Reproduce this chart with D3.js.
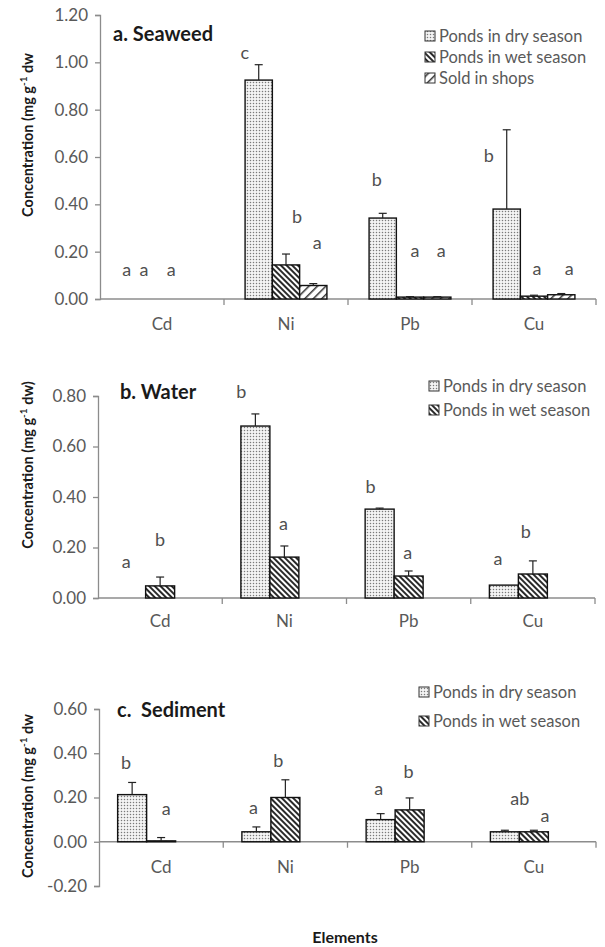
<!DOCTYPE html>
<html>
<head>
<meta charset="utf-8">
<script src="https://cdn.jsdelivr.net/npm/d3@7"></script>
<style>
  body { margin: 0; background: #fff; }
  svg { font-family: Lato, "Open Sans", sans-serif; }
</style>
</head>
<body>
<div id="chart"></div>
<script>
const elements = ["Cd", "Ni", "Pb", "Cu"];
const seriesNames = ["Ponds in dry season", "Ponds in wet season", "Sold in shops"];

// a. Seaweed
const seaweedMean = [
  [0, 0.925, 0.342, 0.38],
  [0, 0.144, 0.008, 0.012],
  [0, 0.057, 0.008, 0.018]
];
const seaweedErr = [
  [0, 0.065, 0.02, 0.335],
  [0, 0.046, 0.002, 0.004],
  [0, 0.008, 0.002, 0.005]
];
const seaweedLetters = [["a", "c", "b", "b"], ["a", "b", "a", "a"], ["a", "a", "a", "a"]];
const seaweedLetterAt = [[0.123, 1.04, 0.503, 0.604], [0.123, 0.346, 0.203, 0.127], [0.123, 0.237, 0.203, 0.127]];

// b. Water
const waterMean = [
  [0, 0.681, 0.352, 0.051],
  [0.048, 0.162, 0.087, 0.095]
];
const waterErr = [
  [0, 0.048, 0.004, 0],
  [0.035, 0.044, 0.02, 0.052]
];
const waterLetters = [["a", "b", "b", "a"], ["b", "a", "a", "b"]];
const waterLetterAt = [[0.143, 0.816, 0.44, 0.154], [0.23, 0.293, 0.178, 0.261]];

// c. Sediment
const sedimentMean = [
  [0.213, 0.045, 0.1, 0.045],
  [0.004, 0.2, 0.144, 0.045]
];
const sedimentErr = [
  [0.055, 0.022, 0.027, 0.007],
  [0.015, 0.08, 0.054, 0.007]
];
const sedimentLetters = [["b", "a", "a", "ab"], ["a", "b", "b", "a"]];
const sedimentLetterAt = [[0.356, 0.153, 0.239, 0.194], [0.149, 0.365, 0.315, 0.117]];

const ticksA = [0, 0.2, 0.4, 0.6, 0.8, 1.0, 1.2];
const ticksB = [0, 0.2, 0.4, 0.6, 0.8];
const ticksC = [-0.2, 0, 0.2, 0.4, 0.6];

// layout
const W = 605, H = 947;
const svg = d3.select("#chart").append("svg").attr("width", W).attr("height", H);

const defs = svg.append("defs");
// dotted fill (dry season)
const pDry = defs.append("pattern").attr("id", "pat0")
  .attr("patternUnits", "userSpaceOnUse").attr("width", 3).attr("height", 3);
pDry.append("rect").attr("width", 3).attr("height", 3).attr("fill", "#f4f4f4");
pDry.append("circle").attr("cx", 1.5).attr("cy", 1.5).attr("r", 0.75).attr("fill", "#7a7a7a");
// dark hatch (wet season), lines running down to the right
const pWet = defs.append("pattern").attr("id", "pat1")
  .attr("patternUnits", "userSpaceOnUse").attr("width", 4).attr("height", 4)
  .attr("patternTransform", "rotate(45)");
pWet.append("rect").attr("width", 4).attr("height", 4).attr("fill", "#fff");
pWet.append("rect").attr("width", 4).attr("height", 2).attr("fill", "#2a2a2a");
// light hatch (shops), lines running up to the right
const pShop = defs.append("pattern").attr("id", "pat2")
  .attr("patternUnits", "userSpaceOnUse").attr("width", 6).attr("height", 6)
  .attr("patternTransform", "rotate(-45)");
pShop.append("rect").attr("width", 6).attr("height", 6).attr("fill", "#fff");
pShop.append("rect").attr("width", 6).attr("height", 1.5).attr("fill", "#333");

const panels = [
  {
    title: "a. Seaweed", mean: seaweedMean, err: seaweedErr,
    letters: seaweedLetters, letterAt: seaweedLetterAt,
    ticks: ticksA, domain: [0, 1.2], yr: [299, 15], x0: 100, x1: 596, group: 0.66,
    titleX: 113, titleY: 41, legX: 425, legY: 36, legStep: 21,
    yTitleY: 135, closeParen: false, catDy: 31,
    nudge: [[-8, -14, -6, -18], [-18, 11, 5, 3], [-18, 4, 4, 8]]
  },
  {
    title: "b. Water", mean: waterMean, err: waterErr,
    letters: waterLetters, letterAt: waterLetterAt,
    ticks: ticksB, domain: [0, 0.8], yr: [598, 396], x0: 98, x1: 595, group: 0.70,
    titleX: 120, titleY: 399, legX: 429, legY: 386, legStep: 24,
    yTitleY: 465, closeParen: true, catDy: 29,
    nudge: [[-5, -14, -9, -6], [0, -1, -1, -7]]
  },
  {
    title: "c.  Sediment", mean: sedimentMean, err: sedimentErr,
    letters: sedimentLetters, letterAt: sedimentLetterAt,
    ticks: ticksC, domain: [-0.2, 0.6], yr: [886, 709], x0: 99, x1: 596, group: 0.70,
    titleX: 117, titleY: 717, legX: 419, legY: 692, legStep: 29,
    yTitleY: 796, closeParen: false, catDy: 31,
    nudge: [[-6, -3, -2, 15], [5, -7, -1, 11]]
  }
];

const axisGrey = "#8c8c8c";
const textGrey = "#595959";
const fmt = (d) => d.toFixed(2); // plain hyphen for negatives, like the source

panels.forEach((p) => {
  const g = svg.append("g");
  const y = d3.scaleLinear().domain(p.domain).range(p.yr);
  const x = d3.scaleBand().domain(elements).range([p.x0, p.x1]).paddingInner(0).paddingOuter(0);
  const pad = (1 - p.group) / 2;
  // always three slots per element, as in the source chart
  const slotW = x.bandwidth() * p.group / 3;
  const slotX = (el, s) => x(el) + x.bandwidth() * pad + s * slotW;

  // y axis
  const yAxis = d3.axisLeft(y).tickValues(p.ticks).tickSize(5).tickPadding(7).tickFormat(fmt);
  const ya = g.append("g").attr("transform", `translate(${p.x0},0)`).call(yAxis);
  ya.select(".domain").attr("stroke", axisGrey).attr("stroke-width", 1.3);
  ya.selectAll(".tick line").attr("stroke", axisGrey).attr("stroke-width", 1.3);
  ya.selectAll(".tick text").attr("fill", textGrey).style("font-size", "17px")
    .style("font-family", "Lato, sans-serif");

  // x axis at zero
  const zy = y(0);
  g.append("line").attr("x1", p.x0).attr("x2", p.x1).attr("y1", zy).attr("y2", zy)
    .attr("stroke", axisGrey).attr("stroke-width", 1.3);
  g.selectAll(".xtick").data(elements).join("line")
    .attr("x1", (d) => x(d) + x.bandwidth())
    .attr("x2", (d) => x(d) + x.bandwidth())
    .attr("y1", zy).attr("y2", zy + 6)
    .attr("stroke", axisGrey).attr("stroke-width", 1.3);
  g.selectAll(".cat").data(elements).join("text")
    .attr("x", (d) => x(d) + x.bandwidth() / 2)
    .attr("y", zy + p.catDy)
    .attr("text-anchor", "middle").attr("fill", textGrey)
    .style("font-size", "17px").text((d) => d);

  // bars
  p.mean.forEach((vals, s) => {
    const sg = g.append("g");
    const d = elements.map((el, i) => ({ el, v: vals[i], e: p.err[s][i], i }));
    sg.selectAll("rect").data(d.filter((b) => b.v > 0)).join("rect")
      .attr("x", (b) => slotX(b.el, s))
      .attr("width", slotW)
      .attr("y", (b) => y(b.v))
      .attr("height", (b) => y(0) - y(b.v))
      .attr("fill", `url(#pat${s})`)
      .attr("stroke", "#111").attr("stroke-width", 1.4);
    const eb = d.filter((b) => b.e > 0);
    sg.selectAll(".ev").data(eb).join("line")
      .attr("x1", (b) => slotX(b.el, s) + slotW / 2)
      .attr("x2", (b) => slotX(b.el, s) + slotW / 2)
      .attr("y1", (b) => y(b.v)).attr("y2", (b) => y(b.v + b.e))
      .attr("stroke", "#222").attr("stroke-width", 1.2);
    sg.selectAll(".ec").data(eb).join("line")
      .attr("x1", (b) => slotX(b.el, s) + slotW / 2 - 4)
      .attr("x2", (b) => slotX(b.el, s) + slotW / 2 + 4)
      .attr("y1", (b) => y(b.v + b.e)).attr("y2", (b) => y(b.v + b.e))
      .attr("stroke", "#222").attr("stroke-width", 1.2);
    // significance letters
    sg.selectAll(".lt").data(d).join("text")
      .attr("x", (b) => slotX(b.el, s) + slotW / 2 + p.nudge[s][b.i])
      .attr("y", (b) => y(p.letterAt[s][b.i]))
      .attr("dy", "0.35em")
      .attr("text-anchor", "middle").attr("fill", "#505050")
      .style("font-size", "18px")
      .text((b) => p.letters[s][b.i]);
  });

  // title
  g.append("text").attr("x", p.titleX).attr("y", p.titleY)
    .style("font-size", "20px").style("font-weight", "bold").attr("fill", "#1a1a1a")
    .attr("xml:space", "preserve").text(p.title);

  // y title
  const yt = g.append("text")
    .attr("transform", `translate(33,${p.yTitleY}) rotate(-90)`)
    .attr("text-anchor", "middle").attr("fill", "#1a1a1a")
    .style("font-size", "14.5px").style("font-weight", "bold");
  yt.append("tspan").text("Concentration (mg g");
  yt.append("tspan").attr("dy", -6).style("font-size", "10px").text("-1");
  yt.append("tspan").attr("dy", 6).text(p.closeParen ? " dw)" : " dw");

  // legend
  const leg = g.append("g");
  p.mean.forEach((vals, s) => {
    const ly = p.legY + s * p.legStep;
    leg.append("rect").attr("x", p.legX).attr("y", ly - 5).attr("width", 10).attr("height", 10)
      .attr("fill", `url(#pat${s})`).attr("stroke", "#333").attr("stroke-width", 1);
    leg.append("text").attr("x", p.legX + 14).attr("y", ly).attr("dy", "0.35em")
      .attr("fill", textGrey).style("font-size", "16.5px").text(seriesNames[s]);
  });
});

svg.append("text").attr("x", 345).attr("y", 937).attr("dy", "0.35em")
  .attr("text-anchor", "middle").attr("fill", "#1a1a1a")
  .style("font-size", "16px").style("font-weight", "bold").text("Elements");
</script>
</body>
</html>
